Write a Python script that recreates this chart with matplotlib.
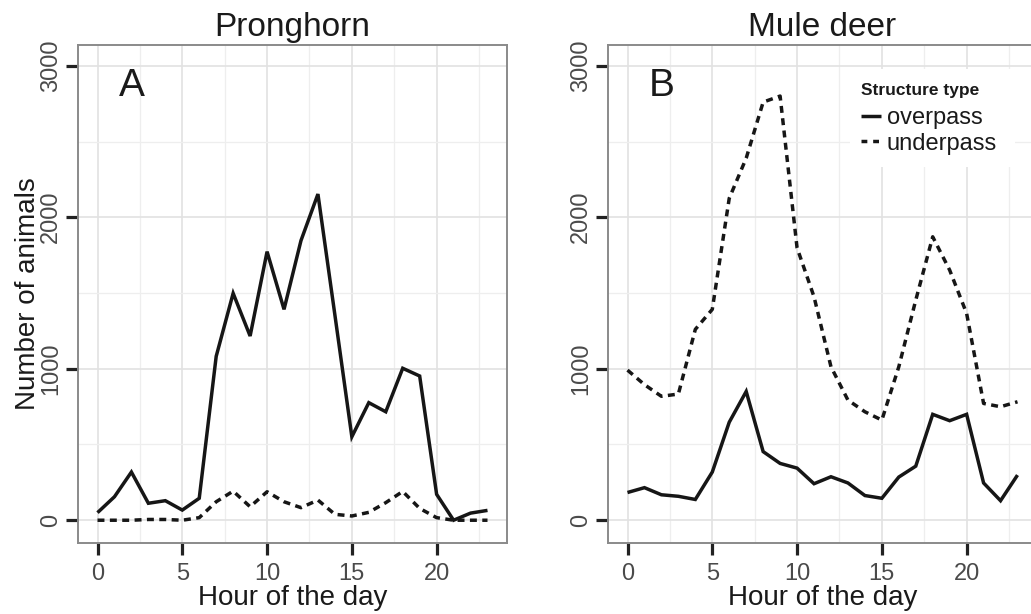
import matplotlib
matplotlib.use("Agg")
import matplotlib.pyplot as plt
from matplotlib.lines import Line2D
from matplotlib.patches import Rectangle
from matplotlib.ticker import MultipleLocator, FixedLocator

# ---------------- data ----------------
hours = list(range(24))
pronghorn_overpass = [50, 155, 318, 112, 129, 67, 145, 1082, 1498, 1216, 1773, 1392, 1846, 2153,
                      1355, 551, 776, 716, 1003, 952, 171, 0, 47, 65]
pronghorn_underpass = [0, 0, 0, 5, 5, 0, 17, 122, 192, 89, 188, 122, 83, 133,
                       39, 28, 52, 116, 190, 78, 17, 0, 0, 0]
mule_overpass = [183, 215, 168, 158, 137, 318, 647, 850, 453, 375, 344, 241, 287, 246,
                 163, 145, 285, 357, 699, 657, 699, 246, 129, 298]
mule_underpass = [991, 895, 818, 833, 1260, 1392, 2125, 2390, 2760, 2800, 1798, 1475, 1013, 793,
                  716, 661, 1013, 1453, 1871, 1651, 1365, 771, 749, 782]

panel_titles = ["Pronghorn", "Mule deer"]
panel_letters = ["A", "B"]
series_labels = ["overpass", "underpass"]
legend_title = "Structure type"
x_label = "Hour of the day"
y_label = "Number of animals"
x_ticks = [0, 5, 10, 15, 20]
y_ticks = [0, 1000, 2000, 3000]

# ---------------- style ----------------
plt.rcParams["font.family"] = ["Liberation Sans", "DejaVu Sans"]
plt.rcParams["lines.scale_dashes"] = False

W, H = 1031, 614
fig = plt.figure(figsize=(W / 100, H / 100), dpi=100)
fig.patch.set_facecolor("white")


def px_axes(l, t, r, b):
    return fig.add_axes([l / W, 1 - b / H, (r - l) / W, (b - t) / H])


axA = px_axes(78, 45, 507, 542.5)
axB = px_axes(608, 45, 1037, 542.5)

line_col = "#161616"
lw = 2.5
dash = (5.0, 3.9)

panels = [
    (axA, pronghorn_overpass, pronghorn_underpass),
    (axB, mule_overpass, mule_underpass),
]

for i, (ax, over, under) in enumerate(panels):
    ax.set_xlim(-1.15, 24.15)
    ax.set_ylim(-147, 3137)
    ax.xaxis.set_major_locator(FixedLocator(x_ticks))
    ax.yaxis.set_major_locator(FixedLocator(y_ticks))
    ax.xaxis.set_minor_locator(MultipleLocator(2.5))
    ax.yaxis.set_minor_locator(MultipleLocator(500))
    ax.set_axisbelow(True)
    ax.grid(which="major", color="#e2e2e2", linewidth=1.2)
    ax.grid(which="minor", color="#eeeeee", linewidth=0.9)
    for sp in ax.spines.values():
        sp.set_color("#8a8a8a")
        sp.set_linewidth(1.4)
    ax.tick_params(which="minor", length=0)
    ax.tick_params(which="major", length=8.6, width=2.3, color="#222222",
                   labelsize=17, labelcolor="#4a4a4a")
    ax.tick_params(axis="x", which="major", pad=6.5)
    ax.tick_params(axis="y", which="major", pad=3)
    ax.set_xticklabels([str(t) for t in x_ticks])
    ax.set_yticklabels([str(t) for t in y_ticks], rotation=90, va="center")

    ax.plot(hours, over, color=line_col, linewidth=lw, solid_capstyle="butt",
            solid_joinstyle="miter", zorder=3)
    ax.plot(hours, under, color=line_col, linewidth=lw, linestyle=(0, dash),
            dash_capstyle="butt", zorder=3)

    ax.set_title(panel_titles[i], fontsize=24, color="#1a1a1a", pad=6.5)
    ax.set_xlabel(x_label, fontsize=20, color="#1a1a1a", labelpad=0)
    ax.text(2, 2800, panel_letters[i], ha="center", va="baseline",
            fontsize=28, color="#1a1a1a")

axA.set_ylabel(y_label, fontsize=20, color="#1a1a1a", labelpad=-1)

# legend background box (pixel coords -> axes coords of panel B)
bx0, by0, bx1, by1 = 850, 69, 1015, 167
axl, axt, axr, axb = 608, 45, 1037, 542.5
rect = Rectangle(((bx0 - axl) / (axr - axl), (axb - by1) / (axb - axt)),
                 (bx1 - bx0) / (axr - axl), (by1 - by0) / (axb - axt),
                 transform=axB.transAxes, facecolor="white", edgecolor="none", zorder=1)
axB.add_patch(rect)

handles = [
    Line2D([], [], color=line_col, linewidth=lw, solid_capstyle="butt"),
    Line2D([], [], color=line_col, linewidth=lw, linestyle=(0, (4.2, 4.2)), dash_capstyle="butt"),
]
leg = axB.legend(handles, series_labels, title=legend_title,
                 loc="upper left",
                 bbox_to_anchor=((861 - axl) / (axr - axl), (axb - 83) / (axb - axt)),
                 frameon=False, fontsize=17,
                 title_fontproperties={"size": 12.5, "weight": "bold"},
                 handlelength=0.85, handletextpad=0.25, labelspacing=0.15,
                 borderpad=0, borderaxespad=0, alignment="left")
leg._legend_box.sep = 6.5
for t in leg.get_texts():
    t.set_color("#1a1a1a")
leg.get_title().set_color("#1a1a1a")

fig.savefig("out.png", dpi=100)
